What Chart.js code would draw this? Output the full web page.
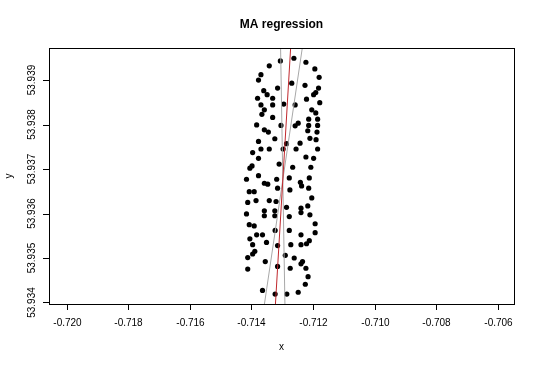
<!DOCTYPE html>
<html>
<head>
<meta charset="utf-8">
<script src="https://cdn.jsdelivr.net/npm/chart.js@4.4.1/dist/chart.umd.min.js"></script>
<style>
  html, body { margin: 0; padding: 0; background: #fff; }
</style>
</head>
<body>
<canvas id="maChart" width="540" height="366"></canvas>
<script>
// observations
const xs = [
  -0.71306, -0.71262, -0.71223, -0.71342, -0.71194, -0.71369, -0.71180, -0.71377, -0.71269, -0.71226,
  -0.71315, -0.71182, -0.71360, -0.71191, -0.71349, -0.71198, -0.71380, -0.71331, -0.71221,
  -0.71369, -0.71331, -0.71295, -0.71258, -0.71178, -0.71358, -0.71204, -0.71366, -0.71191, -0.71331,
  -0.71214, -0.71185, -0.71383, -0.71304, -0.71258, -0.71248, -0.71214, -0.71185, -0.71358, -0.71345,
  -0.71217, -0.71187, -0.71210, -0.71324, -0.71377, -0.71190, -0.71286, -0.71242, -0.71369, -0.71342,
  -0.71297, -0.71255, -0.71185,
  -0.71396, -0.71223, -0.71198, -0.71377, -0.71310, -0.71266, -0.71398, -0.71405, -0.71207, -0.71377,
  -0.71277, -0.71212, -0.71416, -0.71358, -0.71347, -0.71318, -0.71241, -0.71237, -0.71315, -0.71275,
  -0.71214, -0.71407, -0.71391, -0.71204,
  -0.71412, -0.71385, -0.71342, -0.71320, -0.71286, -0.71239, -0.71217, -0.71358, -0.71324, -0.71239,
  -0.71210, -0.71416, -0.71358, -0.71324, -0.71277, -0.71407, -0.71391, -0.71193, -0.71323, -0.71277,
  -0.71193, -0.71383, -0.71364, -0.71239, -0.71405, -0.71212, -0.71351, -0.71396, -0.71315, -0.71272,
  -0.71239, -0.71221,
  -0.71389, -0.71396, -0.71290, -0.71261, -0.71234, -0.71239, -0.71412, -0.71355, -0.71315, -0.71274,
  -0.71223, -0.71412, -0.71216, -0.71225, -0.71364, -0.71323, -0.71285, -0.71248
];
const ys = [
  53.93943, 53.93949, 53.93940, 53.93932, 53.93925, 53.93912, 53.93906, 53.93900, 53.93893, 53.93888,
  53.93882, 53.93882, 53.93876, 53.93872, 53.93867, 53.93867, 53.93859, 53.93859, 53.93857,
  53.93844, 53.93844, 53.93846, 53.93844, 53.93849, 53.93833, 53.93833, 53.93823, 53.93826, 53.93816,
  53.93812, 53.93812, 53.93799, 53.93798, 53.93797, 53.93803, 53.93798, 53.93798, 53.93788, 53.93783,
  53.93786, 53.93783, 53.93769, 53.93768, 53.93762, 53.93766, 53.93757, 53.93758, 53.93745, 53.93745,
  53.93745, 53.93745, 53.93745,
  53.93737, 53.93727, 53.93724, 53.93724, 53.93711, 53.93704, 53.93707, 53.93702, 53.93704, 53.93685,
  53.93680, 53.93680, 53.93677, 53.93668, 53.93666, 53.93677, 53.93670, 53.93662, 53.93657, 53.93653,
  53.93657, 53.93649, 53.93649, 53.93635,
  53.93625, 53.93629, 53.93629, 53.93627, 53.93614, 53.93612, 53.93617, 53.93606, 53.93606, 53.93602,
  53.93597, 53.93599, 53.93595, 53.93595, 53.93593, 53.93575, 53.93572, 53.93577, 53.93562, 53.93562,
  53.93557, 53.93552, 53.93552, 53.93552, 53.93543, 53.93539, 53.93535, 53.93530, 53.93528, 53.93530,
  53.93530, 53.93532,
  53.93515, 53.93509, 53.93506, 53.93500, 53.93492, 53.93487, 53.93501, 53.93492, 53.93481, 53.93477,
  53.93477, 53.93475, 53.93458, 53.93441, 53.93427, 53.93419, 53.93419, 53.93423
];

const xTicks = [-0.720, -0.718, -0.716, -0.714, -0.712, -0.710, -0.708, -0.706];
const yTicks = [53.934, 53.935, 53.936, 53.937, 53.938, 53.939];

// MA fit: lines through the centroid, slope of fit and its CI limits
const centroid = [-0.71298, 53.93676];
const fitSlope = 11.67;
const ciSlopes = [4.68, -40.7];

const xLim = [-0.720575, -0.705471];
const yLim = [53.933966, 53.93972];

function lineThrough(slope) {
  return yLim.map(y => ({ x: centroid[0] + (y - centroid[1]) / slope, y: y }));
}

const points = xs.map((x, i) => ({ x: x, y: ys[i] }));

// R-style box, ticks and labels
const rAxes = {
  id: 'rAxes',
  afterDraw(chart) {
    const { ctx, chartArea: a, scales } = chart;
    ctx.save();
    ctx.strokeStyle = '#000';
    ctx.lineWidth = 1;
    ctx.strokeRect(a.left + 0.5, a.top + 0.5, a.right - a.left, a.bottom - a.top);

    ctx.fillStyle = '#000';
    ctx.font = '10px "Liberation Sans", Arial, sans-serif';
    ctx.textAlign = 'center';
    ctx.textBaseline = 'middle';
    ctx.beginPath();
    xTicks.forEach(t => {
      const px = Math.round(scales.x.getPixelForValue(t)) + 0.5;
      ctx.moveTo(px, a.bottom);
      ctx.lineTo(px, a.bottom + 6);
      ctx.fillText(t.toFixed(3), px, a.bottom + 19);
    });
    yTicks.forEach(t => {
      const py = Math.round(scales.y.getPixelForValue(t)) + 0.5;
      ctx.moveTo(a.left, py);
      ctx.lineTo(a.left - 6, py);
    });
    ctx.stroke();
    yTicks.forEach(t => {
      const py = scales.y.getPixelForValue(t);
      ctx.save();
      ctx.translate(a.left - 17, py);
      ctx.rotate(-Math.PI / 2);
      ctx.fillText(t.toFixed(3), 0, 0);
      ctx.restore();
    });

    ctx.fillText('x', (a.left + a.right) / 2, 347);
    ctx.save();
    ctx.translate(9, (a.top + a.bottom) / 2);
    ctx.rotate(-Math.PI / 2);
    ctx.fillText('y', 0, 0);
    ctx.restore();

    ctx.font = 'bold 12px "Liberation Sans", Arial, sans-serif';
    ctx.fillText('MA regression', (a.left + a.right) / 2, 25);
    ctx.restore();
  }
};

new Chart(document.getElementById('maChart'), {
  type: 'scatter',
  data: {
    datasets: [
      {
        label: 'points',
        data: points,
        pointRadius: 2.6,
        pointBackgroundColor: '#000',
        pointBorderWidth: 0,
        order: 3
      },
      {
        label: 'ci low',
        data: lineThrough(ciSlopes[0]),
        showLine: true,
        borderColor: '#a8a8a8',
        borderWidth: 1,
        pointRadius: 0,
        order: 2
      },
      {
        label: 'ci high',
        data: lineThrough(ciSlopes[1]),
        showLine: true,
        borderColor: '#a8a8a8',
        borderWidth: 1,
        pointRadius: 0,
        order: 2
      },
      {
        label: 'fit',
        data: lineThrough(fitSlope),
        showLine: true,
        borderColor: '#c0282d',
        borderWidth: 1,
        pointRadius: 0,
        order: 1
      }
    ]
  },
  options: {
    responsive: false,
    animation: false,
    devicePixelRatio: 1,
    layout: { padding: { left: 49, top: 48, right: 26, bottom: 62 } },
    plugins: {
      legend: { display: false },
      tooltip: { enabled: false }
    },
    events: [],
    scales: {
      x: { type: 'linear', min: xLim[0], max: xLim[1], display: false },
      y: { type: 'linear', min: yLim[0], max: yLim[1], display: false }
    }
  },
  plugins: [rAxes]
});
</script>
</body>
</html>
